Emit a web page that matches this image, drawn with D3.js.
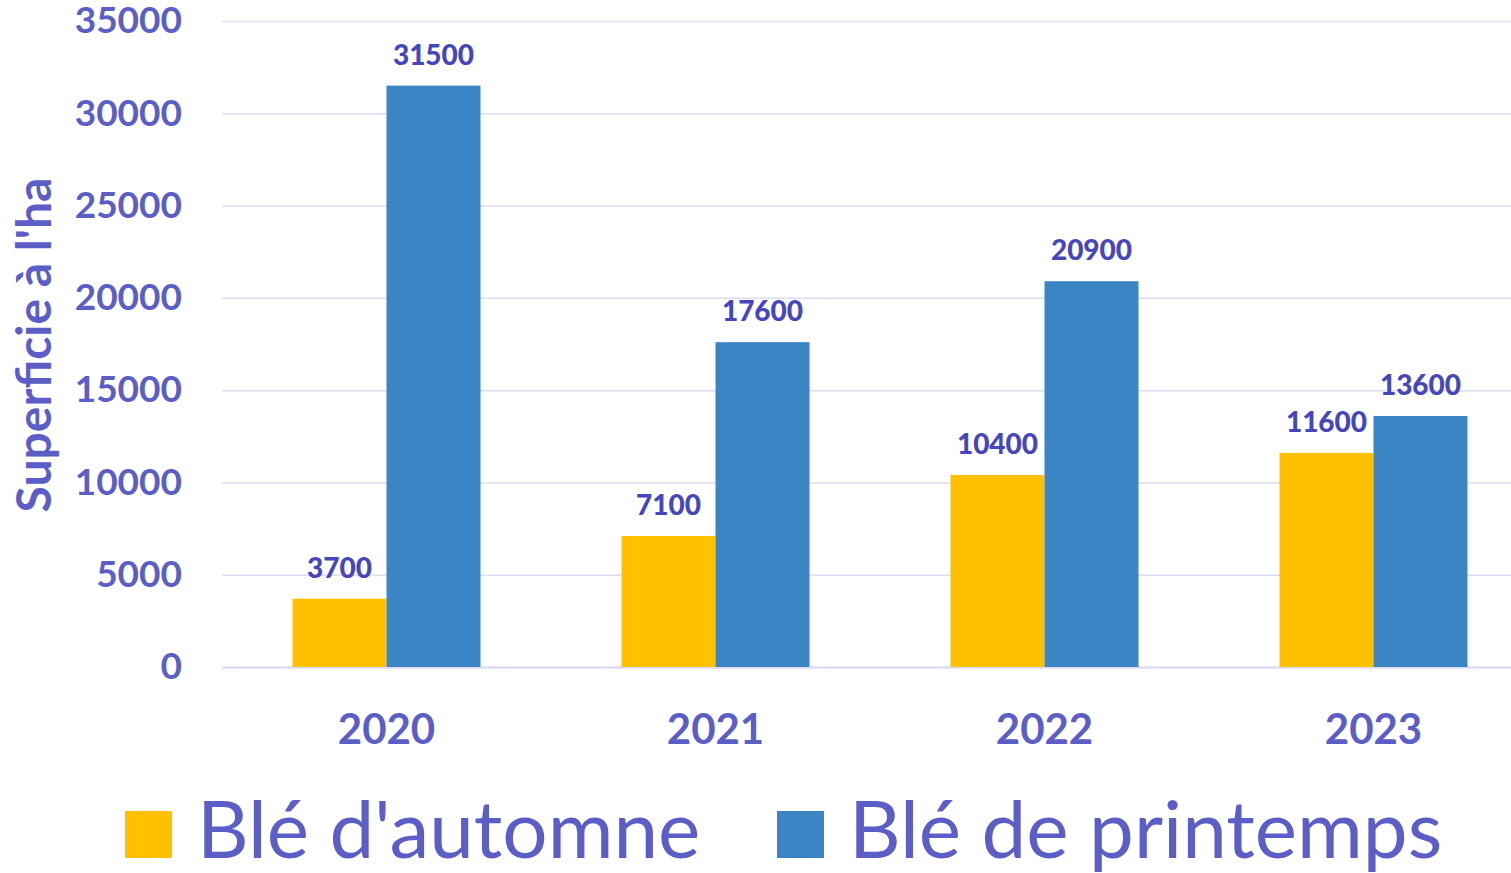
<!DOCTYPE html>
<html>
<head>
<meta charset="utf-8">
<script src="https://cdn.jsdelivr.net/npm/d3@7"></script>
<style>
  body { margin: 0; background: #fff; }
  svg { display: block; font-family: Lato, "Open Sans", sans-serif; }
</style>
</head>
<body>
<div id="chart"></div>
<script>
// data
var years = ["2020", "2021", "2022", "2023"];
var series = ["Blé d'automne", "Blé de printemps"];
var automne = [3700, 7100, 10400, 11600];
var printemps = [31500, 17600, 20900, 13600];
var yTicks = [0, 5000, 10000, 15000, 20000, 25000, 30000, 35000];
var colors = ["#FFC000", "#3B85C4"];

var width = 1511, height = 873;
var margin = { top: 21, left: 222, right: -27, bottom: 206 };
var textColor = "#5B5EC6", labelColor = "#4646BC";

var svg = d3.select("#chart").append("svg")
    .attr("width", width)
    .attr("height", height);

var yScale = d3.scaleLinear()
    .domain([0, 35000])
    .range([height - margin.bottom, margin.top]);

var pad = 141 / 329;
var xScale = d3.scaleBand()
    .domain(years)
    .range([margin.left, width - margin.right])
    .paddingInner(pad)
    .paddingOuter(pad / 2);

var xSub = d3.scaleBand()
    .domain(series)
    .range([0, xScale.bandwidth()]);

// gridlines + y tick labels
var yAxis = svg.append("g")
    .attr("transform", "translate(" + margin.left + ",0)")
    .call(d3.axisLeft(yScale).tickValues(yTicks).tickFormat(d3.format("d"))
        .tickSize(-(width - margin.left)).tickPadding(40));
yAxis.select(".domain").remove();
yAxis.selectAll(".tick line")
    .attr("stroke", "#DCDCF2")
    .attr("stroke-width", d => d === 0 ? 2.5 : 1.5);
yAxis.selectAll(".tick text")
    .attr("fill", textColor)
    .style("font-size", "37px")
    .style("font-weight", "bold")
    .style("font-family", "Lato");

// y title
svg.append("text")
    .attr("transform", "rotate(-90)")
    .attr("x", -345)
    .attr("y", 51)
    .attr("text-anchor", "middle")
    .attr("fill", textColor)
    .style("font-size", "48px")
    .style("font-weight", "bold")
    .text("Superficie à l'ha");

// bars
var rows = years.map((y, i) => ({ year: y, values: [automne[i], printemps[i]] }));
var groups = svg.selectAll("g.year")
    .data(rows)
    .enter().append("g")
    .attr("class", "year")
    .attr("transform", d => "translate(" + xScale(d.year) + ",0)");

groups.selectAll("rect")
    .data(d => d.values.map((v, j) => ({ key: series[j], value: v, c: colors[j] })))
    .enter().append("rect")
    .attr("x", d => xSub(d.key))
    .attr("width", xSub.bandwidth())
    .attr("y", d => yScale(d.value))
    .attr("height", d => yScale(0) - yScale(d.value))
    .attr("fill", d => d.c);

groups.selectAll("text.val")
    .data(d => d.values.map((v, j) => ({ key: series[j], value: v })))
    .enter().append("text")
    .attr("class", "val")
    .attr("x", d => xSub(d.key) + xSub.bandwidth() / 2)
    .attr("y", d => yScale(d.value) - 21)
    .attr("text-anchor", "middle")
    .attr("fill", labelColor)
    .style("font-size", "28px")
    .style("font-weight", "900")
    .text(d => d.value);

// x labels
var xAxis = svg.append("g")
    .attr("transform", "translate(0," + yScale(0) + ")")
    .call(d3.axisBottom(xScale).tickSize(0).tickPadding(0));
xAxis.select(".domain").remove();
xAxis.selectAll(".tick text")
    .attr("dy", null)
    .attr("y", 77)
    .attr("fill", textColor)
    .style("font-size", "42px")
    .style("font-weight", "bold")
    .style("font-family", "Lato");

// legend
var legendX = [125, 777];
var legend = svg.selectAll("g.legend")
    .data(series)
    .enter().append("g")
    .attr("class", "legend")
    .attr("transform", (d, i) => "translate(" + legendX[i] + ",811)");
legend.append("rect")
    .attr("width", 47)
    .attr("height", 47)
    .attr("fill", (d, i) => colors[i]);
legend.append("text")
    .attr("x", 72)
    .attr("y", 47)
    .attr("fill", textColor)
    .style("font-size", "80px")
    .text(d => d);
</script>
</body>
</html>
